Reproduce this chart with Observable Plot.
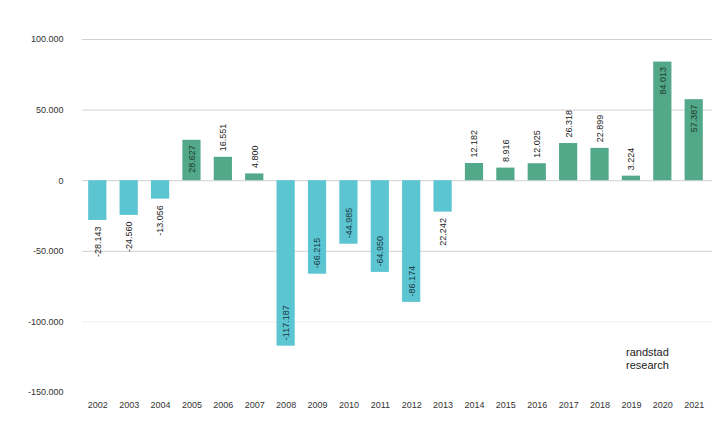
<!DOCTYPE html>
<html>
<head>
<meta charset="utf-8">
<script src="https://cdn.jsdelivr.net/npm/d3@7"></script>
<script src="https://cdn.jsdelivr.net/npm/@observablehq/plot@0.6"></script>
<style>
  html, body { margin: 0; padding: 0; background: #fff; }
  #chart { position: relative; width: 719px; height: 430px; }
  #brand { position: absolute; left: 626px; top: 346px; font-family: "Liberation Sans", Arial, sans-serif; font-size: 11px; line-height: 12.5px; color: #222; }
</style>
</head>
<body>
<div id="chart"></div>
<script>
const years = ["2002","2003","2004","2005","2006","2007","2008","2009","2010","2011","2012","2013","2014","2015","2016","2017","2018","2019","2020","2021"];
const values = [-28143, -24560, -13056, 28627, 16551, 4800, -117187, -66215, -44985, -64950, -86174, -22242, 12182, 8916, 12025, 26318, 22899, 3224, 84013, 57387];
const labels = ["-28.143","-24.560","-13.056","28.627","16.551","4.800","-117.187","-66.215","-44.985","-64.950","-86.174","22.242","12.182","8.916","12.025","26.318","22.899","3.224","84.013","57.387"];
const yTicks = [100000, 50000, 0, -50000, -100000, -150000];
const brandLines = ["randstad", "research"];

const data = years.map((year, i) => ({year, value: values[i], label: labels[i]}));
const fmt = d3.formatLocale({decimal: ",", thousands: ".", grouping: [3], currency: ["", ""], minus: "-"}).format(",d");
const inside = d => Math.abs(d.value) > 28500;
const font = "Liberation Sans, Arial, sans-serif";

const chart = Plot.plot({
  width: 719,
  height: 430,
  marginLeft: 75,
  marginRight: 3,
  marginTop: 39,
  marginBottom: 38,
  style: {fontFamily: font, fontSize: "9px", color: "#333", background: "#fff"},
  x: {domain: years, padding: 0.42, round: false, label: null, tickSize: 0, tickPadding: 9},
  y: {domain: [-150000, 100000], ticks: yTicks, tickFormat: fmt, label: null, tickSize: 0, tickPadding: 12},
  marks: [
    Plot.ruleY(yTicks.filter(t => t > -150000), {y: d => d, stroke: d => d === -100000 ? "#eee" : "#d0d0d0", insetLeft: 7, insetRight: 4}),
    Plot.barY(data, {x: "year", y: "value", fill: d => d.value < 0 ? "#5BC5D1" : "#52A98A"}),
    // positive outside
    Plot.text(data.filter(d => d.value >= 0 && !inside(d)), {x: "year", y: "value", text: "label", rotate: -90, textAnchor: "start", dy: -6, fill: "#222"}),
    // positive inside
    Plot.text(data.filter(d => d.value >= 0 && inside(d)), {x: "year", y: "value", text: "label", rotate: -90, textAnchor: "end", dy: 5, fill: "#1e3a30"}),
    // negative outside
    Plot.text(data.filter(d => d.value < 0 && !inside(d)), {x: "year", y: "value", text: "label", rotate: -90, textAnchor: "end", dy: 6, fill: "#222"}),
    // negative inside
    Plot.text(data.filter(d => d.value < 0 && inside(d)), {x: "year", y: "value", text: "label", rotate: -90, textAnchor: "start", dy: -6, fill: "#1a3a44"})
  ]
});
document.getElementById("chart").appendChild(chart);
const brand = document.createElement("div");
brand.id = "brand";
brand.innerHTML = brandLines.join("<br>");
document.getElementById("chart").appendChild(brand);
</script>
</body>
</html>
